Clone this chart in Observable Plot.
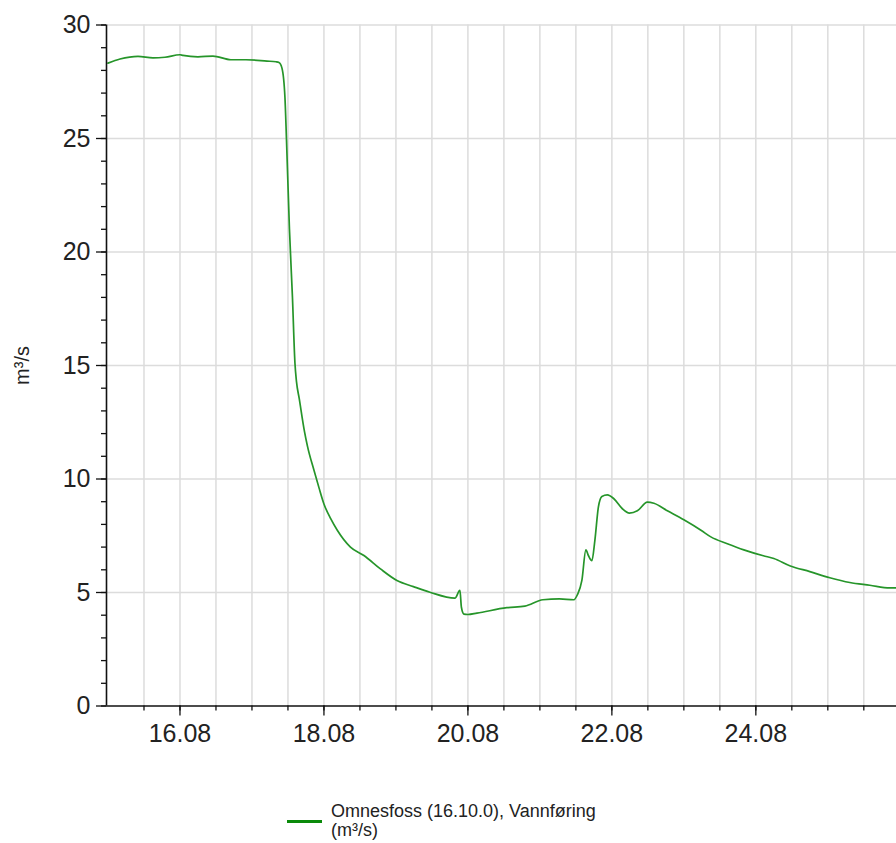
<!DOCTYPE html>
<html>
<head>
<meta charset="utf-8">
<script src="https://cdn.jsdelivr.net/npm/d3@7"></script>
<script src="https://cdn.jsdelivr.net/npm/@observablehq/plot@0.6"></script>
<style>
  html, body { margin: 0; padding: 0; background: #fff; }
  body { width: 896px; height: 843px; overflow: hidden; position: relative; font-family: "Liberation Sans", Arial, sans-serif; }
  #chart svg { display: block; }
  #legend { position: absolute; left: 287px; top: 802px; display: flex; align-items: flex-start; color: #222; font-size: 18px; line-height: 19px; font-family: "Liberation Sans", Arial, sans-serif; }
  #legend .sw { width: 35px; height: 3px; background: #0a8a0a; margin-top: 18px; margin-right: 9px; }
  #legend .txt span { display: block; height: 19px; }
</style>
</head>
<body>
<div id="chart"></div>
<div id="legend"><div class="sw"></div><div class="txt"><span>Omnesfoss (16.10.0), Vannføring</span><span>(m³/s)</span></div></div>
<script>
// Time stamps (UTC, 2024-08) and discharge values in m³/s
const times = [
  "08-15T00:00","08-15T04:00","08-15T10:00","08-15T15:00","08-15T19:00",
  "08-16T00:00","08-16T01:00","08-16T06:00","08-16T11:00","08-16T17:00","08-16T22:00",
  "08-17T05:00","08-17T08:00","08-17T09:00","08-17T10:00","08-17T11:00","08-17T11:30",
  "08-17T12:30","08-17T13:30","08-17T14:20","08-17T14:50","08-17T15:45","08-17T17:30","08-17T18:30","08-17T20:45","08-17T22:20",
  "08-18T00:00","08-18T02:15","08-18T04:30","08-18T08:50","08-18T13:20","08-18T18:50",
  "08-19T00:20","08-19T05:50","08-19T11:20","08-19T19:40","08-19T21:20","08-19T21:50","08-19T22:40",
  "08-20T00:00","08-20T03:00","08-20T13:00","08-20T19:00",
  "08-21T01:00","08-21T06:30","08-21T11:20","08-21T12:30","08-21T14:00","08-21T15:20","08-21T16:10",
  "08-21T17:20","08-21T18:20","08-21T19:30","08-21T20:40","08-21T22:30",
  "08-22T00:40","08-22T03:30","08-22T05:50","08-22T08:30","08-22T11:50","08-22T14:00","08-22T18:30",
  "08-23T00:00","08-23T05:50","08-23T09:00","08-23T14:30","08-23T20:00",
  "08-24T02:30","08-24T06:00","08-24T11:30","08-24T18:00",
  "08-25T00:40","08-25T07:20","08-25T14:00","08-25T20:40","08-25T23:00"
];
const values = [
  28.32, 28.50, 28.62, 28.55, 28.58,
  28.69, 28.66, 28.60, 28.63, 28.47, 28.47,
  28.41, 28.38, 28.35, 28.10, 26.80, 25.00,
  21.00, 18.00, 15.10, 14.30, 13.55, 12.10, 11.45, 10.35, 9.62,
  8.90, 8.25, 7.73, 7.00, 6.63, 6.04,
  5.53, 5.26, 5.01, 4.75, 5.09, 4.35, 4.05,
  4.03, 4.09, 4.33, 4.40,
  4.68, 4.72, 4.68, 4.90, 5.53, 6.88, 6.63,
  6.40, 7.30, 8.76, 9.23, 9.30,
  9.13, 8.69, 8.50, 8.60, 8.98, 8.93, 8.60,
  8.20, 7.73, 7.45, 7.15, 6.88,
  6.62, 6.50, 6.17, 5.92,
  5.65, 5.44, 5.32, 5.20, 5.20
];
const yMajorTicks = [0, 5, 10, 15, 20, 25, 30];
const yMinorTicks = d3.range(0, 31, 1);
const xDomain = [new Date("2024-08-14T23:30:00Z"), new Date("2024-08-25T22:54:00Z")];
const xMajorTicks = ["2024-08-16", "2024-08-18", "2024-08-20", "2024-08-22", "2024-08-24"].map(s => new Date(s + "T00:00:00Z"));
const xMinorTicks = d3.utcHour.every(12).range(new Date("2024-08-15T12:00:00Z"), xDomain[1]);
const yLabel = "m³/s";

const data = times.map((t, i) => ({ date: new Date("2024-" + t + ":00Z"), value: values[i] }));

const fmt = d3.utcFormat("%d.%m");
const font = "Liberation Sans, Arial, sans-serif";

const chart = Plot.plot({
  width: 896,
  height: 760,
  marginLeft: 106,
  marginRight: 0,
  marginTop: 24.5,
  marginBottom: 54.5,
  style: { fontFamily: font, color: "#222", background: "#fff", overflow: "visible" },
  x: { type: "utc", domain: xDomain },
  y: { domain: [0, 30] },
  marks: [
    Plot.gridX(xMinorTicks, { stroke: "#dcdcdc", strokeOpacity: 1, strokeWidth: 1.5 }),
    Plot.gridY(yMajorTicks.filter(d => d > 0), { stroke: "#dcdcdc", strokeOpacity: 1, strokeWidth: 1.5 }),
    Plot.line(data, { x: "date", y: "value", stroke: "#26952a", strokeWidth: 1.7, curve: "monotone-x" }),
    Plot.ruleX([xDomain[0]], { stroke: "#111", strokeWidth: 1.6 }),
    Plot.ruleY([0], { stroke: "#111", strokeWidth: 1.6 }),
    Plot.axisY(yMinorTicks, { tickSize: 5, text: null, stroke: "#111", strokeWidth: 1.3, label: null }),
    Plot.axisY(yMajorTicks, { tickSize: 10, tickPadding: 6, fontSize: 25, stroke: "#111", strokeWidth: 1.3, label: null, fill: "#222" }),
    Plot.axisX(xMinorTicks, { tickSize: 5, text: null, stroke: "#111", strokeWidth: 1.3, label: null }),
    Plot.axisX(xMajorTicks, { tickSize: 10, tickPadding: 8, fontSize: 25, tickFormat: fmt, stroke: "#111", strokeWidth: 1.3, label: null, fill: "#222" }),
    Plot.text([yLabel], { frameAnchor: "left", dx: -84, rotate: -90, textAnchor: "middle", fontSize: 20, fill: "#222" })
  ]
});
document.getElementById("chart").appendChild(chart);
</script>
</body>
</html>
